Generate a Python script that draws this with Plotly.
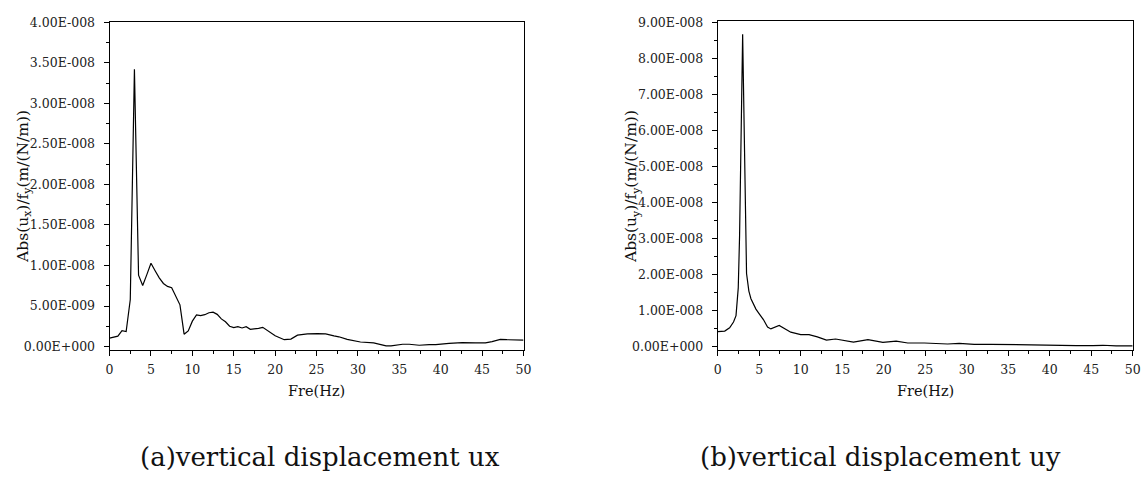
import plotly.graph_objects as go

# ---------------- data ----------------
freq_ux = [0, 1.0, 1.5, 2.0, 2.5, 3.0, 3.5, 4.0, 4.5, 5.0, 5.5, 6.0, 6.5, 7.0, 7.5, 8.0, 8.5,
           9.0, 9.5, 10.0, 10.5, 11.0, 11.5, 12.0, 12.5, 13.0, 13.5, 14.0, 14.5, 15.0, 15.5,
           16.0, 16.5, 17.0, 17.5, 18.0, 18.5, 19.0, 20.0, 21.1, 21.9, 22.7, 23.9, 25.1, 26.1,
           27.1, 27.7, 28.7, 30.3, 31.9, 33.4, 34.0, 35.4, 36.2, 37.4, 38.6, 39.4, 41.0, 42.6,
           44.2, 45.4, 46.2, 47.2, 48.0, 50.0]
ux = [1.04e-9, 1.28e-9, 1.97e-9, 1.85e-9, 5.8e-9, 3.42e-8, 8.8e-9, 7.54e-9, 8.87e-9, 1.027e-8,
      9.35e-9, 8.47e-9, 7.78e-9, 7.42e-9, 7.26e-9, 6.26e-9, 5.14e-9, 1.52e-9, 1.93e-9, 3.13e-9,
      3.9e-9, 3.81e-9, 3.93e-9, 4.17e-9, 4.23e-9, 3.97e-9, 3.41e-9, 3.05e-9, 2.5e-9, 2.33e-9,
      2.45e-9, 2.29e-9, 2.45e-9, 2.13e-9, 2.17e-9, 2.25e-9, 2.37e-9, 2.05e-9, 1.32e-9, 8.4e-10,
      9.2e-10, 1.4e-9, 1.56e-9, 1.6e-9, 1.56e-9, 1.32e-9, 1.2e-9, 8.8e-10, 5.6e-10, 4.4e-10,
      8e-11, 8e-11, 2.8e-10, 2.8e-10, 1.6e-10, 2.4e-10, 2.4e-10, 4.0e-10, 4.8e-10, 4.4e-10,
      4.4e-10, 6.0e-10, 8.8e-10, 8.4e-10, 8.0e-10]

freq_uy = [0, 0.84, 1.43, 1.9, 2.2, 2.47, 2.63, 3.0, 3.47, 3.75, 4.0, 4.6, 5.0, 5.5, 6.0, 6.4,
           7.4, 8.0, 8.8, 10.0, 11.0, 12.0, 13.1, 14.2, 15.0, 16.35, 18.1, 19.1, 19.9, 21.5,
           22.9, 24.9, 26.5, 27.7, 29.1, 30.9, 32.9, 34.9, 36.1, 37.3, 38.5, 40.0, 41.6, 43.2,
           45.2, 46.4, 48.0, 50.0]
uy = [4.14e-9, 4.3e-9, 5.2e-9, 6.8e-9, 8.6e-9, 1.63e-8, 3.07e-8, 8.67e-8, 2.03e-8, 1.54e-8,
      1.33e-8, 1.04e-8, 9.1e-9, 7.5e-9, 5.4e-9, 4.9e-9, 5.85e-9, 5.0e-9, 4.0e-9, 3.3e-9,
      3.3e-9, 2.7e-9, 1.8e-9, 2.1e-9, 1.8e-9, 1.26e-9, 1.9e-9, 1.6e-9, 1.17e-9, 1.53e-9,
      9.9e-10, 9.9e-10, 9.0e-10, 7.2e-10, 9.0e-10, 6.3e-10, 6.3e-10, 5.4e-10, 4.5e-10, 5.4e-10,
      4.5e-10, 2.7e-10, 2.7e-10, 2.7e-10, 2.7e-10, 3.6e-10, 1.8e-10, 1.8e-10]

x_tickvals = [0, 5, 10, 15, 20, 25, 30, 35, 40, 45, 50]
x_ticktext = ["0", "5", "10", "15", "20", "25", "30", "35", "40", "45", "50"]

y1_tickvals = [0, 5e-9, 1e-8, 1.5e-8, 2e-8, 2.5e-8, 3e-8, 3.5e-8, 4e-8]
y1_ticktext = ["0.00E+000", "5.00E-009", "1.00E-008", "1.50E-008", "2.00E-008",
               "2.50E-008", "3.00E-008", "3.50E-008", "4.00E-008"]
y2_tickvals = [0, 1e-8, 2e-8, 3e-8, 4e-8, 5e-8, 6e-8, 7e-8, 8e-8, 9e-8]
y2_ticktext = ["0.00E+000", "1.00E-008", "2.00E-008", "3.00E-008", "4.00E-008",
               "5.00E-008", "6.00E-008", "7.00E-008", "8.00E-008", "9.00E-008"]

captions = ["(a)vertical displacement ux", "(b)vertical displacement uy"]
y_titles = ["Abs(u<sub>x</sub>)/f<sub>y</sub>(m/(N/m))", "Abs(u<sub>y</sub>)/f<sub>y</sub>(m/(N/m))"]
x_title = "Fre(Hz)"

# ---------------- figure ----------------
W, H = 1147, 477
SERIF = "DejaVu Serif"
TICKFONT = dict(family=SERIF, size=12.5, color="#222")

fig = go.Figure()
fig.add_trace(go.Scatter(x=freq_ux, y=ux, mode="lines", line=dict(color="black", width=1.2),
                         xaxis="x", yaxis="y", showlegend=False))
fig.add_trace(go.Scatter(x=freq_uy, y=uy, mode="lines", line=dict(color="black", width=1.2),
                         xaxis="x2", yaxis="y2", showlegend=False))

def xax(domain, anchor):
    return dict(domain=domain, anchor=anchor, range=[0, 50], tickvals=x_tickvals,
                ticktext=x_ticktext, ticks="outside", ticklen=5, tickwidth=1, tickcolor="black",
                showline=True, linecolor="black", linewidth=1, mirror=True,
                showgrid=False, zeroline=False, tickfont=TICKFONT, ticklabelstandoff=3,
                minor=dict(dtick=2.5, tick0=0, ticks="outside", ticklen=3, tickcolor="black",
                           showgrid=False))

def yax(domain, anchor, rng, tv, tt, minor_dtick):
    return dict(domain=domain, anchor=anchor, range=rng, tickvals=tv, ticktext=tt,
                ticks="outside", ticklen=5, tickwidth=1, tickcolor="black",
                showline=True, linecolor="black", linewidth=1, mirror=True,
                showgrid=False, zeroline=False, tickfont=TICKFONT, ticklabelstandoff=6,
                minor=dict(dtick=minor_dtick, tick0=0, ticks="outside", ticklen=3,
                           tickcolor="black", showgrid=False))

x1d = [106.7 / W, 525.0 / W]
x2d = [721.3 / W, 1140.6 / W]
y1d = [1 - 351.0 / H, 1 - 14.7 / H]
y2d = [1 - 351.0 / H, 1 - 13.3 / H]

fig.update_layout(
    width=W, height=H, margin=dict(l=0, r=0, t=0, b=0),
    paper_bgcolor="white", plot_bgcolor="white",
    font=dict(family=SERIF),
    xaxis=xax(x1d, "y"),
    yaxis=yax(y1d, "x", [-0.045e-8, 4.0e-8], y1_tickvals, y1_ticktext, 0.25e-8),
    xaxis2=xax(x2d, "y2"),
    yaxis2=yax(y2d, "x2", [-0.1e-8, 9.04e-8], y2_tickvals, y2_ticktext, 0.5e-8),
)

annos = []
for i, (xd, ttl, cap, cx) in enumerate([(x1d, y_titles[0], captions[0], 319),
                                          (x2d, y_titles[1], captions[1], 886)]):
    annos.append(dict(text=x_title, xref="paper", yref="paper", x=(xd[0] + xd[1]) / 2,
                      y=1 - 392.7 / H, showarrow=False, xanchor="center", yanchor="middle",
                      font=dict(family=SERIF, size=14.5, color="#111")))
    annos.append(dict(text=ttl, xref="paper", yref="paper",
                      x=(xd[0] * W - 86) / W, y=1 - 183 / H, textangle=-90,
                      showarrow=False, xanchor="center", yanchor="middle",
                      font=dict(family=SERIF, size=15.5, color="#111")))
    annos.append(dict(text=cap, xref="paper", yref="paper", x=cx / W, y=1 - 461 / H,
                      showarrow=False, xanchor="center", yanchor="middle",
                      font=dict(family=SERIF, size=26, color="#111")))
fig.update_layout(annotations=annos)

fig.write_html("out.html")
